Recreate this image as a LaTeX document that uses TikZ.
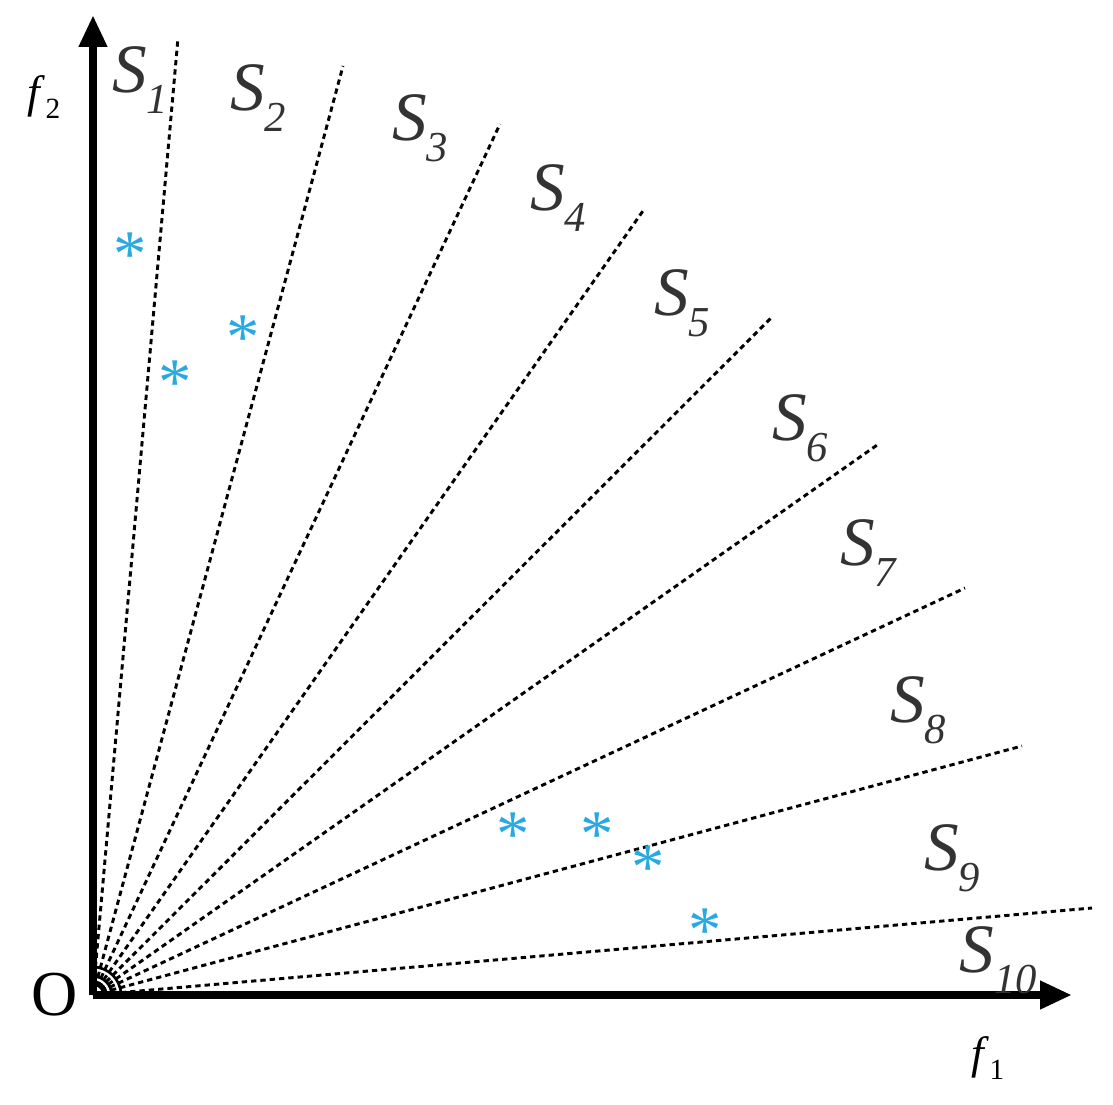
\documentclass[tikz,border=0pt]{standalone}
\usepackage{fontspec}
\setmainfont{Liberation Serif}
\usetikzlibrary{arrows.meta}
\definecolor{starblue}{RGB}{40,170,225}
\begin{document}
\begin{tikzpicture}[x=0.75pt,y=-0.75pt,
  axis/.style={line width=6pt,-{Triangle[length=24pt,width=20pt]}},
  ray/.style={line width=2.2pt,dash pattern=on 4pt off 3pt},
  slab/.style={font=\fontsize{52}{52}\selectfont\itshape,text=black!80,inner sep=0pt},
  star/.style={text=starblue,font=\fontsize{50}{50}\selectfont,inner sep=0pt},
  axlab/.style={font=\fontsize{34}{34}\selectfont,inner sep=0pt}]
\useasboundingbox (0,0) rectangle (1113,1105);
\coordinate (O) at (93,995);
\coordinate (xe) at (1072,995);
\coordinate (ye) at (93,15);
\foreach \i/\x/\y in {1/178/38,2/343/66,3/500/124,4/645/208,5/773/316,6/880/443,7/965/588,8/1022/746,9/1092/908}
  \draw[ray] (O) -- (\x,\y) coordinate (e\i);
\draw[line width=2pt] ([xshift=14pt]O) arc (0:90:14pt);
\draw[line width=2pt] ([xshift=21pt]O) arc (0:90:21pt);
\draw[axis] (O) -- (xe);
\draw[axis] (O) -- (ye);
\node[axlab] (o) at (55,995) {\fontsize{48}{48}\selectfont O};
\node[axlab] (f2) at (44,97) {\textit{f}\raisebox{-0.25em}{\fontsize{22}{22}\selectfont 2}};
\node[axlab] (f1) at (988,1058) {\textit{f}\raisebox{-0.25em}{\fontsize{22}{22}\selectfont 1}};
\foreach \i/\x/\y in {1/140/80,2/258/98,3/420/128,4/558/198,5/682/303,6/800/428,7/868/553,8/918/710,9/952/858,10/998/960}
  \node[slab] (s\i) at (\x,\y) {S\raisebox{-0.3em}{\fontsize{32}{32}\selectfont\i}};
\foreach \x/\y [count=\k] in {130/255,175/383,243/338,513/835,597/835,648/868,705/931}
  \node[star] (a\k) at (\x,\y) {*};
\end{tikzpicture}
\end{document}
